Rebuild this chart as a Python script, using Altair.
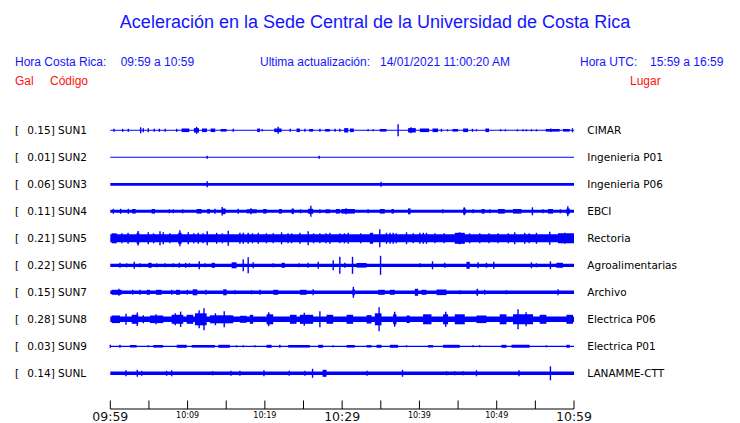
import altair as alt
import pandas as pd

# ---------------- data ----------------
CODES = ["SUN1", "SUN2", "SUN3", "SUN4", "SUN5", "SUN6", "SUN7", "SUN8", "SUN9", "SUNL"]
GAL = ["0.15", "0.01", "0.06", "0.11", "0.21", "0.22", "0.15", "0.28", "0.03", "0.14"]
PLACES = ["CIMAR", "Ingenieria P01", "Ingenieria P06", "EBCI", "Rectoria",
          "Agroalimentarias", "Archivo", "Electrica P06", "Electrica P01", "LANAMME-CTT"]

# half-thickness of the continuous background trace (amplitude units, 27 = trace spacing)
BASE = [0.5, 0.5, 1.35, 1.5, 4.0, 1.6, 1.7, 2.7, 0.6, 1.7]

# events: (start minute, end minute, half amplitude); minutes after 09:59
SUN1_EV = [(0.48, 0.48, 1.5), (1.60, 1.60, 1.5), (2.33, 2.33, 1.5), (3.93, 3.93, 3), (4.27, 4.27, 2),
           (4.91, 4.91, 2), (5.69, 5.69, 1.5), (6.34, 6.34, 1.5), (7.11, 7.11, 1.5), (8.59, 8.59, 1.5),
           (9.23, 10.22, 1.8), (10.82, 11.47, 2.2), (11.17, 11.17, 3.5), (11.86, 12.50, 1.8),
           (12.98, 13.58, 1.8), (14.28, 15.05, 1.3), (15.91, 15.91, 1.5), (19.01, 19.36, 1.8),
           (19.66, 19.66, 1), (21.21, 22.16, 1.8), (21.72, 21.72, 3.5), (23.28, 23.28, 1.5),
           (24.10, 24.53, 1.8), (25.18, 25.18, 1.5), (25.73, 26.25, 1.3), (27.12, 27.12, 1.5),
           (27.80, 28.41, 1.3), (29.09, 29.09, 1.5), (29.70, 29.70, 1.5), (30.26, 30.78, 2.2),
           (31.0, 31.51, 1.8), (33.36, 33.36, 1), (34.01, 34.01, 1), (34.87, 35.74, 1.3),
           (37.24, 37.24, 6), (38.53, 39.53, 2.2), (38.9, 38.9, 3), (40.05, 41.25, 1.8),
           (41.69, 42.41, 1.8), (42.85, 42.85, 1.5), (43.63, 43.63, 1), (44.28, 45.0, 1.3),
           (45.65, 46.29, 1.8), (46.86, 46.86, 1.5), (47.38, 47.38, 1), (48.54, 49.01, 1.8),
           (50.52, 50.52, 1), (51.13, 51.13, 1), (52.68, 52.68, 1), (53.40, 53.40, 1),
           (53.84, 53.84, 1), (54.49, 54.49, 1), (55.14, 55.14, 1), (56.34, 58.15, 1.3),
           (57.0, 57.0, 1.8), (58.58, 59.45, 1.3), (59.8, 59.8, 2)]
SUN2_EV = [(12.54, 12.54, 1.5), (27.03, 27.03, 1.5)]
SUN3_EV = [(12.54, 12.54, 3), (35.04, 35.04, 2.5)]
SUN4_EV = [(0.39, 0.39, 2.5), (1.34, 1.34, 2.5), (2.33, 2.33, 2.5), (2.84, 3.28, 2.3), (5.35, 5.78, 2.3),
           (7.63, 7.63, 2), (8.15, 8.15, 2), (9.36, 9.36, 2), (11.17, 11.82, 2.3), (12.54, 12.89, 2.3),
           (13.54, 13.54, 2.5), (14.41, 14.92, 2.8), (14.48, 14.48, 4.3), (16.55, 16.55, 2.5),
           (17.64, 18.93, 2.0), (18.2, 18.2, 3), (19.78, 20.22, 2.3), (21.81, 22.20, 2.3),
           (23.46, 23.75, 2.8), (24.62, 24.62, 2), (25.60, 26.25, 2.5), (25.95, 25.95, 5.5),
           (27.12, 27.12, 2), (27.85, 28.41, 2), (29.19, 29.70, 2.3), (29.9, 31.65, 2.3),
           (30.5, 30.5, 3), (33.36, 33.36, 2), (34.87, 35.52, 2.3), (36.39, 36.69, 2.3),
           (38.53, 38.84, 3), (43.02, 43.02, 2), (45.65, 46.0, 2.8), (45.8, 45.8, 4),
           (46.94, 46.94, 2), (48.03, 48.45, 2.3), (49.10, 49.10, 2), (50.17, 51.04, 2.3),
           (52.11, 53.2, 2.3), (54.62, 54.62, 4), (55.99, 55.99, 2), (56.64, 57.28, 2.3),
           (58.24, 58.24, 2), (59.02, 59.45, 2.8), (59.2, 59.2, 5)]
SUN5_EV = [(0.18, 0.83, 5.0), (1.5, 1.5, 5), (2.3, 2.3, 5.5), (3.41, 3.75, 5.5), (3.6, 3.6, 7.3),
           (4.91, 4.91, 6), (5.6, 5.6, 5), (6.43, 6.43, 7), (6.85, 6.85, 6), (7.7, 7.7, 5),
           (8.79, 9.23, 5.5), (9.0, 9.0, 8), (10.09, 10.09, 6), (10.8, 10.8, 5), (11.38, 11.38, 5.5),
           (12.0, 12.0, 5), (12.54, 12.54, 7), (13.76, 13.76, 5.5), (14.5, 14.5, 5), (15.26, 15.26, 7.5),
           (16.77, 16.77, 5.5), (17.2, 17.2, 5.5), (17.84, 17.84, 5.5), (18.4, 18.4, 5),
           (19.14, 19.14, 5.5), (20.2, 20.2, 5), (21.08, 21.08, 5),
           (22.16, 22.16, 6), (23.0, 23.0, 5), (23.46, 23.46, 5), (24.53, 24.53, 5.5), (25.60, 25.60, 7),
           (26.3, 26.3, 5), (27.12, 27.12, 5), (27.9, 27.9, 5), (28.41, 28.41, 5.5), (29.70, 29.70, 5),
           (30.3, 30.3, 5), (30.78, 30.78, 5.5), (32.4, 32.4, 5), (33.58, 34.01, 5.5), (34.87, 34.87, 9),
           (35.74, 35.74, 5.5), (36.2, 36.2, 5.5), (36.6, 36.6, 5.5), (37.0, 37.0, 5), (38.33, 38.33, 6),
           (39.2, 39.2, 5), (40.05, 40.05, 5.5), (40.5, 40.5, 5.5), (40.91, 40.91, 5.5),
           (42.0, 42.0, 5), (43.2, 43.2, 5), (44.57, 45.87, 5.5), (45.2, 45.2, 6), (46.5, 46.5, 5),
           (47.8, 47.8, 5), (49.0, 49.0, 5), (50.17, 50.17, 5), (51.5, 51.5, 5), (52.33, 52.33, 6),
           (53.62, 53.62, 5.5), (54.2, 54.2, 5), (55.14, 55.14, 5.5), (56.86, 56.86, 6.5),
           (57.93, 60.0, 5), (58.8, 58.8, 5.5)]
SUN6_EV = [(1.25, 1.25, 2.5), (2.12, 2.12, 2), (3.10, 3.10, 3.5), (3.84, 3.84, 2), (4.91, 5.35, 2.5),
           (6.0, 6.0, 2), (7.07, 7.07, 2), (8.15, 8.15, 2), (8.92, 8.92, 2.5), (9.75, 9.75, 2.5),
           (10.22, 10.22, 2), (11.51, 11.51, 4), (12.25, 12.25, 2), (13.11, 13.54, 2.5),
           (15.70, 16.34, 3), (17.20, 17.20, 6), (17.84, 17.84, 8), (18.49, 18.49, 3), (21.08, 21.08, 2),
           (22.16, 22.59, 2.5), (24.44, 24.44, 2), (25.60, 25.60, 2.5), (26.90, 26.90, 3.5),
           (28.84, 28.84, 5), (29.70, 29.70, 8.5), (30.35, 30.35, 2.5), (31.34, 31.34, 8.5),
           (31.86, 33.16, 2.3), (34.97, 34.97, 9.5), (40.05, 40.05, 2), (41.69, 41.69, 4),
           (43.28, 43.28, 2.5), (46.09, 46.51, 3.5), (47.59, 47.59, 3), (48.67, 48.67, 2.5),
           (49.62, 49.62, 3.5), (54.49, 54.49, 3), (55.14, 55.14, 2), (56.95, 56.95, 4),
           (57.72, 58.58, 2.5)]
SUN7_EV = [(0.18, 1.47, 2.5), (1.12, 1.12, 3.5), (2.90, 2.90, 2.5), (3.84, 3.84, 2.5), (4.71, 5.13, 2.5),
           (5.91, 6.65, 2.5), (7.94, 7.94, 2.5), (8.50, 9.01, 2.5), (9.96, 9.96, 2.5), (10.66, 11.25, 3),
           (12.37, 12.37, 2.5), (14.61, 15.05, 3), (16.12, 16.12, 2), (18.28, 18.28, 2),
           (19.36, 19.36, 2.5), (21.08, 21.72, 2.5), (24.53, 25.40, 2.5), (26.25, 26.25, 3),
           (31.34, 31.64, 3), (31.45, 31.45, 5.5), (34.66, 35.52, 2.5), (36.17, 36.81, 2.5),
           (39.40, 39.83, 3.5), (40.27, 40.91, 2.5), (42.21, 43.50, 2.8), (45.22, 45.22, 2),
           (47.38, 47.59, 3.5), (48.45, 48.45, 2.5), (51.26, 51.26, 2), (57.93, 57.93, 3)]
SUN8_EV = [(0.18, 1.25, 3.8), (2.03, 2.03, 5.5), (2.77, 3.62, 4.5), (3.49, 3.49, 6.7), (4.27, 4.27, 4),
           (5.13, 6.85, 3.8), (5.9, 5.9, 5), (7.94, 9.44, 4.5), (9.10, 9.10, 7.7), (8.4, 8.4, 6),
           (9.88, 10.73, 4.5), (10.95, 12.47, 6), (12.12, 12.12, 11), (11.5, 11.5, 9), (12.89, 15.91, 4.0),
           (14.74, 14.74, 8), (13.6, 13.6, 6), (16.77, 17.64, 3.5), (18.06, 18.49, 4.5), (20.22, 21.08, 5),
           (20.5, 20.5, 7), (23.24, 24.10, 4.5), (24.53, 26.25, 4.5), (25.1, 25.1, 6.5), (27.12, 27.12, 8),
           (27.98, 28.84, 4.5), (30.57, 31.42, 4.5), (33.16, 33.80, 4.2), (34.23, 35.09, 6),
           (34.78, 34.78, 12), (36.59, 37.03, 5), (36.8, 36.8, 7.5), (38.33, 38.75, 3.8),
           (40.47, 41.56, 5), (43.06, 43.71, 5), (43.4, 43.4, 7.5), (44.57, 45.87, 5),
           (47.38, 48.67, 3.8), (50.39, 51.26, 5), (52.11, 54.70, 5), (52.76, 52.76, 10),
           (53.8, 53.8, 7), (55.56, 56.43, 4.5), (59.02, 59.87, 4.5)]
SUN9_EV = [(0.0, 0.0, 1.5), (1.25, 1.25, 1.5), (2.55, 3.41, 1.2), (4.91, 4.91, 1), (5.56, 6.85, 1.3),
           (8.59, 9.88, 1.5), (10.53, 13.54, 1.3), (13.97, 15.48, 1.5), (16.34, 16.34, 1),
           (17.20, 17.20, 1), (18.71, 18.71, 1), (20.22, 20.87, 1.5), (21.94, 21.94, 1.5),
           (23.02, 25.82, 1.3), (26.90, 27.54, 1.5), (28.84, 28.84, 1), (30.57, 31.64, 1.3),
           (33.16, 33.80, 1.2), (34.45, 35.09, 1.5), (36.17, 37.24, 1.5), (38.33, 38.33, 1),
           (41.12, 41.77, 1.2), (43.06, 45.22, 1.5), (46.94, 46.94, 1), (47.80, 47.80, 1),
           (50.61, 51.26, 1.5), (51.91, 54.27, 1.5), (56.43, 56.43, 1), (59.02, 59.45, 1.5)]
SUNL_EV = [(2.03, 2.03, 3), (3.49, 3.49, 3.5), (4.06, 4.06, 2.5), (7.29, 7.29, 2.5), (7.94, 7.94, 3),
           (13.24, 13.24, 2), (15.61, 15.61, 2.5), (16.77, 16.77, 2.5), (19.88, 19.88, 3),
           (23.15, 23.15, 2.5), (25.18, 25.18, 2.5), (26.17, 26.17, 4.5), (27.47, 27.98, 3.5),
           (33.23, 33.23, 2.5), (37.81, 37.81, 3.5), (43.50, 43.50, 2), (44.57, 44.57, 2),
           (45.65, 45.65, 2), (47.38, 47.38, 3), (52.89, 52.89, 3), (56.95, 56.95, 7)]

EVENTS = [SUN1_EV, SUN2_EV, SUN3_EV, SUN4_EV, SUN5_EV, SUN6_EV, SUN7_EV, SUN8_EV, SUN9_EV, SUNL_EV]

TICKS = [0, 5, 10, 15, 20, 25, 30, 35, 40, 45, 50, 55, 60]
MAJOR_TICKS = [0, 30, 60]
MAJOR_LABELS = ["09:59", "10:29", "10:59"]
MINOR_TICKS = [10, 20, 40, 50]
MINOR_LABELS = ["10:09", "10:19", "10:39", "10:49"]

SPACING = 27.0  # amplitude units per trace spacing

# ---------------- tables ----------------
base_rows = []
for i, b in enumerate(BASE):
    base_rows.append({"idx": i, "t0": 0.0, "t1": 60.0, "lo": i - b / SPACING, "hi": i + b / SPACING})
base_df = pd.DataFrame(base_rows)

burst_rows, spike_rows = [], []
for i, evs in enumerate(EVENTS):
    for (t0, t1, a) in evs:
        row = {"idx": i, "t0": t0, "t1": t1, "lo": i - a / SPACING, "hi": i + a / SPACING}
        (spike_rows if t1 == t0 else burst_rows).append(row)
burst_df = pd.DataFrame(burst_rows)
spike_df = pd.DataFrame(spike_rows)

lab_df = pd.DataFrame({"idx": list(range(len(CODES))),
                       "left": [f"{g}] {c}" for g, c in zip(GAL, CODES)],
                       "place": PLACES})

BLUE = "#0000ff"
RED = "#ff1010"
XS = alt.Scale(domain=[0, 60], range=[102.3, 566], nice=False, zero=False)
YS = alt.Scale(domain=[0, 9], range=[122.3, 365.3], nice=False, zero=False)

base_layer = alt.Chart(base_df).mark_rect(color=BLUE).encode(
    x=alt.X("t0:Q", scale=XS, axis=None), x2="t1:Q",
    y=alt.Y("lo:Q", scale=YS, axis=None), y2="hi:Q")
burst_layer = alt.Chart(burst_df).mark_rect(color=BLUE).encode(
    x=alt.X("t0:Q", scale=XS, axis=None), x2="t1:Q",
    y=alt.Y("lo:Q", scale=YS, axis=None), y2="hi:Q")
spike_layer = alt.Chart(spike_df).mark_rule(color=BLUE, strokeWidth=1.4).encode(
    x=alt.X("t0:Q", scale=XS, axis=None),
    y=alt.Y("lo:Q", scale=YS, axis=None), y2="hi:Q")

LABEL_FONT = "DejaVu Sans"
bracket_layer = alt.Chart(lab_df).mark_text(
    text="[", align="left", baseline="alphabetic", dy=3.8, fontSize=10.5, font=LABEL_FONT, color="black"
).encode(x=alt.value(7), y=alt.Y("idx:Q", scale=YS, axis=None))
left_layer = alt.Chart(lab_df).mark_text(
    align="left", baseline="alphabetic", dy=3.8, fontSize=10.5, font=LABEL_FONT, color="black"
).encode(x=alt.value(19.3), y=alt.Y("idx:Q", scale=YS, axis=None), text="left:N")
right_layer = alt.Chart(lab_df).mark_text(
    align="left", baseline="alphabetic", dy=3.8, fontSize=10.5, font=LABEL_FONT, color="black"
).encode(x=alt.value(579.3), y=alt.Y("idx:Q", scale=YS, axis=None), text="place:N")

# time axis
axis_line = alt.Chart(pd.DataFrame({"a": [0], "b": [60]})).mark_rule(color="black", strokeWidth=1).encode(
    x=alt.X("a:Q", scale=XS, axis=None), x2="b:Q", y=alt.value(401))
tick_layer = alt.Chart(pd.DataFrame({"m": TICKS})).mark_rule(color="black", strokeWidth=1).encode(
    x=alt.X("m:Q", scale=XS, axis=None), y=alt.value(392.5), y2=alt.value(401))
major_lab = alt.Chart(pd.DataFrame({"m": MAJOR_TICKS, "s": MAJOR_LABELS})).mark_text(
    align="center", baseline="alphabetic", fontSize=12.5, font=LABEL_FONT, color="#111111"
).encode(x=alt.X("m:Q", scale=XS, axis=None), y=alt.value(412.7), text="s:N")
minor_lab = alt.Chart(pd.DataFrame({"m": MINOR_TICKS, "s": MINOR_LABELS})).mark_text(
    align="center", baseline="alphabetic", fontSize=8, font=LABEL_FONT, color="black"
).encode(x=alt.X("m:Q", scale=XS, axis=None), y=alt.value(410.3), text="s:N")


def txt(s, x, y, size, color, align="left"):
    return alt.Chart(pd.DataFrame({"s": [s]})).mark_text(
        align=align, baseline="alphabetic", fontSize=size, font="Liberation Sans", color=color
    ).encode(x=alt.value(x), y=alt.value(y), text="s:N")


HEAD_BLUE = "#1414ff"
texts = [
    txt("Aceleración en la Sede Central de la Universidad de Costa Rica", 367, 20, 18, HEAD_BLUE, "center"),
    txt("Hora Costa Rica:", 7, 57.7, 12, HEAD_BLUE),
    txt("09:59 a 10:59", 112.7, 57.7, 12, HEAD_BLUE),
    txt("Ultima actualización:", 252, 57.7, 12, HEAD_BLUE),
    txt("14/01/2021 11:00:20 AM", 372, 57.7, 12, HEAD_BLUE),
    txt("Hora UTC:", 572, 57.7, 12, HEAD_BLUE),
    txt("15:59 a 16:59", 642, 57.7, 12, HEAD_BLUE),
    txt("Gal", 7, 77.3, 12, RED),
    txt("Código", 42, 77.3, 12, RED),
    txt("Lugar", 622, 77.3, 12, RED),
]

chart = alt.layer(
    base_layer, burst_layer, spike_layer, bracket_layer, left_layer, right_layer,
    axis_line, tick_layer, major_lab, minor_lab, *texts
).properties(
    width=724, height=422, autosize=alt.AutoSizeParams(type="none"), padding=0
).configure_view(stroke=None)

chart.save("out.html", embed_options={"renderer": "svg", "actions": False})
